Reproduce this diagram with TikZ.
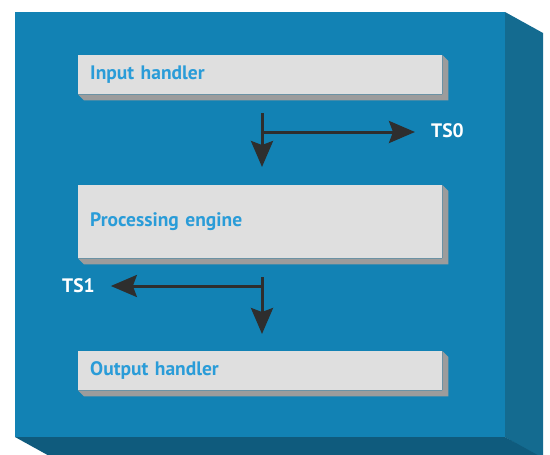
\documentclass[tikz,border=0pt]{standalone}
\usepackage{fontspec}
\setmainfont{PT Sans}
\usetikzlibrary{arrows.meta,calc}
\definecolor{frontblue}{HTML}{1282B4}
\definecolor{sideblue}{HTML}{146B90}
\definecolor{bottomblue}{HTML}{0F5B7D}
\definecolor{boxgray}{HTML}{DFDFDF}
\definecolor{shadegray}{HTML}{9C9C9C}
\definecolor{textblue}{HTML}{2A9CD8}
\definecolor{arrowdark}{HTML}{2E2E2E}
\tikzset{
  stagebox/.style={fill=boxgray, draw=none, anchor=north west, minimum width=364pt,
    text width=340pt, align=left, inner xsep=12pt, inner ysep=0pt,
    font=\bfseries\fontsize{19.5}{22}\selectfont, text=textblue},
  tslabel/.style={inner sep=0pt, font=\bfseries\fontsize{19.5}{22}\selectfont, text=white},
  flow/.style={draw=arrowdark, line width=3pt,
    -{Stealth[length=26pt,width=22pt,inset=4pt]}}
}
\newcommand{\boxshade}[1]{%
  \fill[shadegray] (#1.north east) -- ++(6,6) -- ($(#1.south east)+(6,6)$)
    -- ($(#1.south west)+(6,6)$) -- (#1.south west) -- (#1.south east) -- cycle;}
\begin{document}
\begin{tikzpicture}[x=1pt,y=-1pt]
\useasboundingbox (0,0) rectangle (550,455);
% block
\fill[white] (0,0) rectangle (550,455);
\fill[sideblue] (505,12) -- (543,33) -- (543,460) -- (505,437) -- cycle;
\fill[bottomblue] (15,437) -- (505,437) -- (543,458) -- (53,458) -- cycle;
\fill[frontblue] (15,12) rectangle (505,437);
% stages
\node[stagebox, minimum height=39pt] (in) at (78,55) {Input handler};
\node[stagebox, minimum height=73pt] (pe) at (78,185) {Processing engine};
\node[stagebox, minimum height=39pt] (out) at (78,351) {Output handler};
\boxshade{in}
\boxshade{pe}
\boxshade{out}
% labels
\node[tslabel, anchor=west] (ts0) at (431,131) {TS0};
\node[tslabel, anchor=west] (ts1) at (62,286) {TS1};
% connectors
\coordinate (s0) at (262,113);
\coordinate (e0) at (262,167);
\coordinate (b0) at (262,132);
\coordinate (s1) at (262,277);
\coordinate (e1) at (262,334);
\coordinate (b1) at (262,286);
\draw[flow] (s0) -- (e0);
\draw[flow, shorten >=16pt] (b0) -- (ts0.west |- b0);
\draw[flow] (s1) -- (e1);
\draw[flow, shorten >=16pt] (b1) -- (ts1.east |- b1);
\end{tikzpicture}
\end{document}
